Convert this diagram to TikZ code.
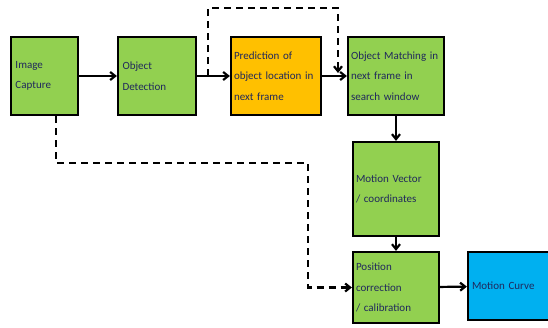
\documentclass[tikz,border=0pt]{standalone}
\usepackage{fontspec}
\setmainfont{Carlito}
\usepackage{tikz}
\usetikzlibrary{arrows.meta,positioning}
\definecolor{boxgreen}{RGB}{146,208,80}
\definecolor{boxorange}{RGB}{255,192,0}
\definecolor{boxblue}{RGB}{0,176,240}
\definecolor{textnavy}{RGB}{32,40,92}

\begin{document}
\begin{tikzpicture}[
    x=1pt, y=-1pt,
    stagebox/.style={rectangle, draw, line width=2.2pt, fill=boxgreen, align=left, inner sep=0pt,
        font=\fontsize{11}{20.5}\selectfont, text=textnavy},
    flow/.style={-{Straight Barb[length=5pt,width=8pt]}, line width=2.2pt},
    dashflow/.style={flow, dash pattern=on 7pt off 5pt},
]
    \clip (0,0) rectangle (548,327);
    \fill[white] (0,0) rectangle (548,327);

    % Top row
    \node[stagebox, minimum width=67pt, minimum height=78pt, text width=58pt] (capture) at (44.5,76) {Image\\Capture};
    \node[stagebox, minimum width=78pt, minimum height=78pt, text width=69pt] (detect) at (157,76) {Object\\Detection};
    \node[stagebox, fill=boxorange, minimum width=90pt, minimum height=78pt, text width=84pt] (predict) at (276,76) {Prediction of\\object location in\\next frame};
    \node[stagebox, minimum width=96pt, minimum height=78pt, text width=90pt] (match) at (396,76) {Object Matching in\\next frame in\\search window};

    % Right column
    \node[stagebox, minimum width=86pt, minimum height=94pt, text width=80pt] (vector) at (396,189) {Motion Vector\\/ coordinates};
    \node[stagebox, minimum width=86pt, minimum height=71pt, text width=80pt] (correct) at (396,287.5) {Position\\correction\\/ calibration};
    \node[stagebox, fill=boxblue, minimum width=90pt, minimum height=68pt, text width=82pt] (curve) at (513,286) {Motion Curve};

    % Solid connectors
    \draw[flow] (capture) -- (detect);
    \draw[flow] (detect) -- (predict);
    \draw[flow] (predict) -- (match);
    \draw[flow] (match) -- (vector);
    \draw[flow] (vector) -- (correct);
    \draw[flow] (correct) -- (curve);

    % Dashed connectors
    \coordinate (skipstart) at (208,76);
    \coordinate (skipend) at (338,73);
    \coordinate (feedstart) at (56,116);
    \draw[dashflow] (skipstart) -- (208,8) -| (skipend);
    \draw[dashflow] (feedstart) |- (308,163) |- (correct.west);
\end{tikzpicture}
\end{document}
